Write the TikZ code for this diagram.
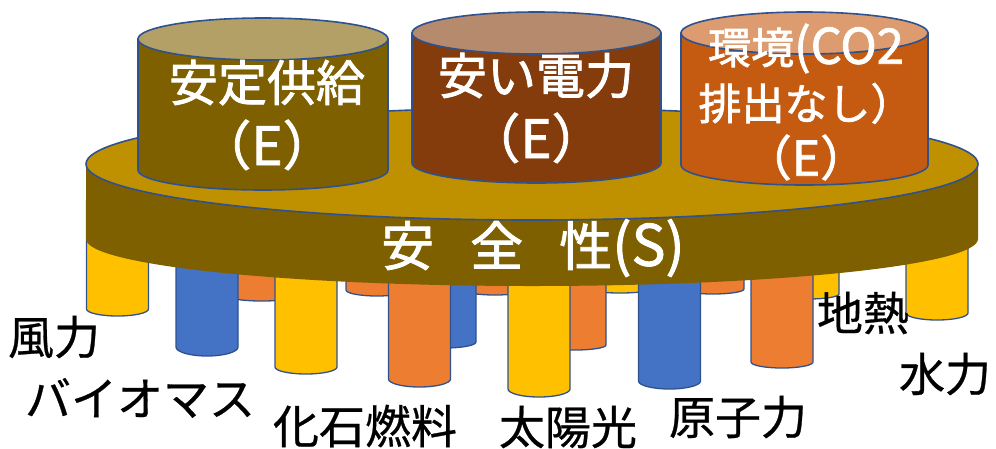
\documentclass[tikz,border=0pt]{standalone}
\usepackage{fontspec}
\setmainfont{Noto Sans CJK JP}
\newfontfamily\heavyjp{Noto Sans CJK JP}[FakeBold=1.6]
\newfontfamily\plainjp{Noto Sans CJK JP}[FakeBold=0.6]

\definecolor{rim}{HTML}{2F528F}
\definecolor{olive}{HTML}{7F6000}
\definecolor{gold}{HTML}{BF9000}
\definecolor{oliveTop}{HTML}{B2A066}
\definecolor{rust}{HTML}{843C0C}
\definecolor{rustTop}{HTML}{B58A6D}
\definecolor{ember}{HTML}{C55A11}
\definecolor{emberTop}{HTML}{DC9C70}
\definecolor{pyellow}{HTML}{FFC000}
\definecolor{pblue}{HTML}{4472C4}
\definecolor{porange}{HTML}{ED7D31}

\begin{document}
\begin{tikzpicture}
    [   x=1pt, y=1pt,
        edge/.style={draw=rim, line width=1.6pt, line join=round},
        cantext/.style={text=white, align=center, inner sep=0pt, font=\heavyjp\fontsize{49}{64}\selectfont},
        lbl/.style={text=black, inner sep=0pt, font=\plainjp\fontsize{46}{46}\selectfont},
    ]
    \useasboundingbox (0,0) rectangle (996,-448);

    % pillars under the disk, back ones first
    \foreach \cx/\by/\ry/\col in {377/290/6/porange, 495/290/5/porange, 620/289/4/pyellow,
        713/289/5/porange, 808/294/5/pyellow, 262/297/4/porange, 117.5/309/7/pyellow,
        937/313/7/pyellow, 445/342/6/pblue, 575/345/5/porange, 207/347/9/pblue,
        782/362/6/porange, 306/367/7/pyellow, 419.5/379/8/porange, 669.5/381/8/pblue,
        539/389/8/pyellow}
    {   \fill[\col] (\cx-31,-200) -- (\cx-31,-\by)
            arc[start angle=180, end angle=360, x radius=31, y radius=\ry] -- (\cx+31,-200) -- cycle;
        \draw[edge,line width=1.3pt] (\cx-31,-200) -- (\cx-31,-\by)
            arc[start angle=180, end angle=360, x radius=31, y radius=\ry] -- (\cx+31,-200);
    }

    % the disk
    \fill[olive] (86,-164) -- (86,-239) arc[start angle=180, end angle=360, x radius=446, y radius=47]
        -- (978,-164) -- cycle;
    \filldraw[edge,fill=gold] (532,-164) ellipse[x radius=446, y radius=56];
    \node[cantext, font=\heavyjp\fontsize{53}{53}\selectfont] (safety) at (533,-248)
        {安\hspace{0.68em}全\hspace{0.68em}性{\fontsize{57}{57}\selectfont(S)}};

    % the three cans on top
    \foreach \cx/\rx/\ty/\by/\col in {263/125/39/170/olive, 536.5/124.5/33/163/rust, 804.5/123.5/33/165/ember}
    {   \filldraw[edge,fill=\col] (\cx-\rx,-\ty) -- (\cx-\rx,-\by)
            arc[start angle=180, end angle=360, x radius=\rx, y radius=20] -- (\cx+\rx,-\ty) -- cycle;
        \filldraw[edge,fill=\col Top] (\cx,-\ty) ellipse[x radius=\rx, y radius=21];
    }
    \node[cantext] (supply) at (267,-115) {安定供給\\{\fontsize{53}{53}\selectfont（E）}};
    \node[cantext] (cheap) at (536,-108) {安い電力\\{\fontsize{53}{53}\selectfont（E）}};
    \node[cantext, font=\heavyjp\fontsize{43}{56}\selectfont] (green) at (806,-102)
        {環境{\fontsize{49}{49}\selectfont(CO2}\\排出なし）\\{\fontsize{48}{48}\selectfont（E）}};

    % power sources
    \node[lbl] (wind) at (54,-337) {風力};
    \node[lbl] (biomass) at (140,-398) {バイオマス};
    \node[lbl] (fossil) at (365,-426) {化石燃料};
    \node[lbl] (solar) at (568,-427) {太陽光};
    \node[lbl] (nuclear) at (738,-417) {原子力};
    \node[lbl] (geo) at (863,-313) {地熱};
    \node[lbl] (hydro) at (945,-374) {水力};
\end{tikzpicture}
\end{document}
